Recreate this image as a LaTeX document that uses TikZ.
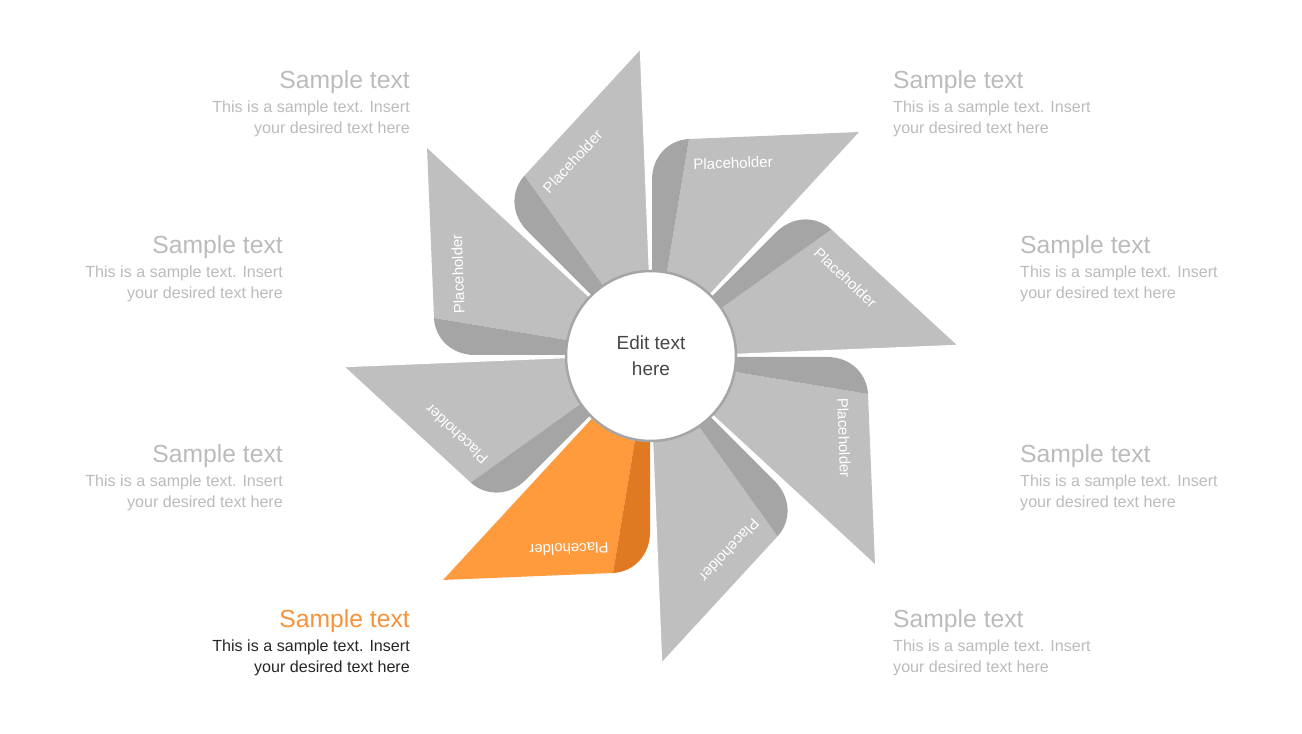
\documentclass[tikz,border=0pt]{standalone}
\usepackage{fontspec}
\setmainfont{Liberation Sans}
\definecolor{lg}{HTML}{BFBFBF}
\definecolor{dg}{HTML}{A5A5A5}
\definecolor{lo}{HTML}{FF9A3D}
\definecolor{do}{HTML}{E07A22}
\definecolor{tg}{HTML}{BBBBBB}
\definecolor{to}{HTML}{F7923A}
\definecolor{tb}{HTML}{262626}
\begin{document}
\begin{tikzpicture}[x=1pt,y=1pt,
 ttl/.style={font=\fontsize{24.7}{25}\selectfont,inner sep=0},
 bdy/.style={font=\fontsize{16.1}{21}\selectfont,inner sep=0,align=#1},
 ph/.style={text=white,font=\fontsize{15}{15}\selectfont,inner sep=0}]
\useasboundingbox (0,0) rectangle (1302,734);
\foreach \k/\a/\b in {0/lo/do,1/lg/dg,2/lg/dg,3/lg/dg,4/lg/dg,5/lg/dg,6/lg/dg,7/lg/dg}{
 \begin{scope}[shift={(651,378)},rotate=-45*\k]
  \fill[\a] (-55,-57) -- (-209,-224) -- (-38,-217) -- (-15,-78) -- cycle;
  \fill[\b] (-15,-78) -- (-38,-217) .. controls (-18,-216) and (-1,-200) .. (-1,-176) -- (-1,-78) -- cycle;
  \draw[white,line width=1.2pt] (-55,-57) -- (-209,-224);
  \node[ph,rotate=182-45*\k] (p\k) at (-82,-193) {Placeholder};
 \end{scope}}
\node[circle,draw=dg,line width=2.5pt,fill=white,minimum size=170,align=center,text=tb!85,font=\fontsize{19}{26}\selectfont] (c) at (651,378) {Edit text\\here};
% left texts
\node[ttl,anchor=base east,text=tg] (t1) at (410,734-89) {Sample text};
\node[bdy=right,anchor=north east,text=tg] (b1) at (410,734-101) {This is a sample text. Insert\\your desired text here};
\node[ttl,anchor=base east,text=tg] (t2) at (283,734-254) {Sample text};
\node[bdy=right,anchor=north east,text=tg] (b2) at (283,734-266) {This is a sample text. Insert\\your desired text here};
\node[ttl,anchor=base east,text=tg] (t3) at (283,734-463) {Sample text};
\node[bdy=right,anchor=north east,text=tg] (b3) at (283,734-475) {This is a sample text. Insert\\your desired text here};
\node[ttl,anchor=base east,text=to] (t4) at (410,734-628) {Sample text};
\node[bdy=right,anchor=north east,text=tb] (b4) at (410,734-640) {This is a sample text. Insert\\your desired text here};
% right texts
\node[ttl,anchor=base west,text=tg] (t5) at (893,734-89) {Sample text};
\node[bdy=left,anchor=north west,text=tg] (b5) at (893,734-101) {This is a sample text. Insert\\your desired text here};
\node[ttl,anchor=base west,text=tg] (t6) at (1020,734-254) {Sample text};
\node[bdy=left,anchor=north west,text=tg] (b6) at (1020,734-266) {This is a sample text. Insert\\your desired text here};
\node[ttl,anchor=base west,text=tg] (t7) at (1020,734-463) {Sample text};
\node[bdy=left,anchor=north west,text=tg] (b7) at (1020,734-475) {This is a sample text. Insert\\your desired text here};
\node[ttl,anchor=base west,text=tg] (t8) at (893,734-628) {Sample text};
\node[bdy=left,anchor=north west,text=tg] (b8) at (893,734-640) {This is a sample text. Insert\\your desired text here};
\end{tikzpicture}
\end{document}
